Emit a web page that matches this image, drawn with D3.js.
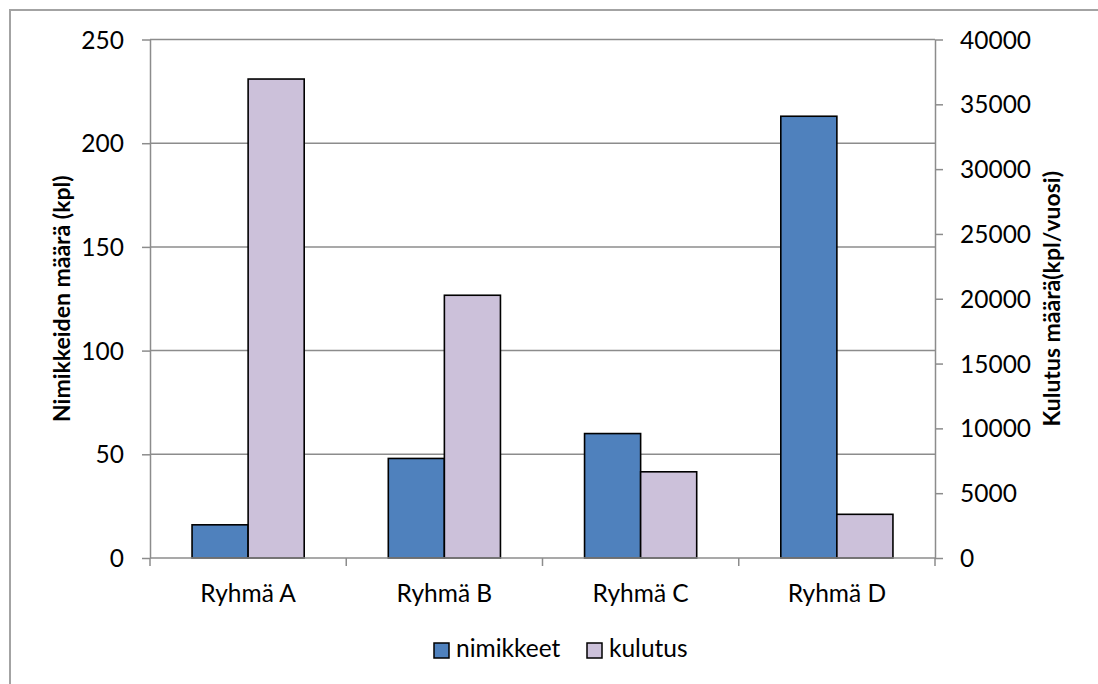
<!DOCTYPE html>
<html>
<head>
<meta charset="utf-8">
<script src="https://cdn.jsdelivr.net/npm/d3@7"></script>
<style>
  html, body { margin: 0; padding: 0; background: #fff; }
  svg { display: block; }
  text { font-family: Lato, "Open Sans", sans-serif; fill: #000; }
</style>
</head>
<body>
<svg id="chart" width="1098" height="684"></svg>
<script>
// Groups and the two measured series
const categories = ["Ryhmä A", "Ryhmä B", "Ryhmä C", "Ryhmä D"];
const seriesNames = ["nimikkeet", "kulutus"];
const nimikkeet = [16, 48, 60, 213];          // left axis, kpl
const kulutus = [36950, 20270, 6650, 3370];   // right axis, kpl/vuosi
const leftTicks = [0, 50, 100, 150, 200, 250];
const rightTicks = [0, 5000, 10000, 15000, 20000, 25000, 30000, 35000, 40000];
const leftTitle = "Nimikkeiden määrä (kpl)";
const rightTitle = "Kulutus määrä(kpl/vuosi)";

const colors = { nimikkeet: "#4F81BD", kulutus: "#CCC1DA" };
const gridColor = "#8c8c8c";
const fontSize = 24.5;
const titleSize = 23;

const svg = d3.select("#chart");
const plot = { left: 150, right: 935, top: 39.5, bottom: 558 };

// Chart area frame
svg.append("rect")
  .attr("x", 10).attr("y", 10)
  .attr("width", 1200).attr("height", 800)
  .attr("fill", "#fff")
  .attr("stroke", "#a3a3a3").attr("stroke-width", 2);

const x = d3.scaleBand().domain(categories).range([plot.left, plot.right]).padding(0);
const xInner = d3.scaleBand().domain(seriesNames).range([0, x.bandwidth()])
  .paddingInner(0).paddingOuter(0.75);
const yLeft = d3.scaleLinear().domain([0, 250]).range([plot.bottom, plot.top]);
const yRight = d3.scaleLinear().domain([0, 40000]).range([plot.bottom, plot.top]);

// Horizontal gridlines from the left axis
svg.append("g").selectAll("line").data(leftTicks.filter(d => d > 0)).join("line")
  .attr("x1", plot.left).attr("x2", plot.right)
  .attr("y1", d => yLeft(d)).attr("y2", d => yLeft(d))
  .attr("stroke", gridColor).attr("stroke-width", 1.5);

// Bars
const rows = categories.map((c, i) => ({ c, nimikkeet: nimikkeet[i], kulutus: kulutus[i] }));
const groups = svg.append("g").selectAll("g").data(rows).join("g")
  .attr("transform", d => `translate(${x(d.c)},0)`);
groups.append("rect")
  .attr("x", xInner("nimikkeet"))
  .attr("width", xInner.bandwidth())
  .attr("y", d => yLeft(d.nimikkeet))
  .attr("height", d => plot.bottom - yLeft(d.nimikkeet))
  .attr("fill", colors.nimikkeet).attr("stroke", "#000").attr("stroke-width", 1.6);
groups.append("rect")
  .attr("x", xInner("kulutus"))
  .attr("width", xInner.bandwidth())
  .attr("y", d => yRight(d.kulutus))
  .attr("height", d => plot.bottom - yRight(d.kulutus))
  .attr("fill", colors.kulutus).attr("stroke", "#000").attr("stroke-width", 1.6);

// Left axis
const leftAxis = d3.axisLeft(yLeft).tickValues(leftTicks).tickSize(8).tickPadding(18).tickSizeOuter(0);
const gl = svg.append("g").attr("transform", `translate(${plot.left},0)`).call(leftAxis);
// Right axis
const rightAxis = d3.axisRight(yRight).tickValues(rightTicks).tickFormat(d3.format("d"))
  .tickSize(8).tickPadding(17).tickSizeOuter(0);
const gr = svg.append("g").attr("transform", `translate(${plot.right},0)`).call(rightAxis);
// Bottom axis: ticks at group boundaries, labels at group centres
const gb = svg.append("g").attr("transform", `translate(0,${plot.bottom})`);
gb.append("line").attr("x1", plot.left).attr("x2", plot.right)
  .attr("stroke", gridColor).attr("stroke-width", 1.5);
const bounds = categories.map(c => x(c)).concat([x(categories[categories.length - 1]) + x.bandwidth()]);
gb.selectAll("line.tk").data(bounds).join("line").attr("class", "tk")
  .attr("x1", d => d).attr("x2", d => d).attr("y1", 0).attr("y2", 8)
  .attr("stroke", gridColor).attr("stroke-width", 1.5);
gb.selectAll("text").data(categories).join("text")
  .attr("x", d => x(d) + x.bandwidth() / 2).attr("y", 43.5)
  .attr("text-anchor", "middle").attr("font-size", fontSize)
  .text(d => d);

[gl, gr].forEach(g => {
  g.select(".domain").attr("stroke", gridColor).attr("stroke-width", 1.5);
  g.selectAll(".tick line").attr("stroke", gridColor).attr("stroke-width", 1.5);
  g.selectAll(".tick text").attr("font-size", fontSize).attr("font-family", "Lato, 'Open Sans', sans-serif")
    .attr("fill", "#000").attr("dy", "0.35em");
});

// Axis titles
svg.append("text")
  .attr("transform", `translate(69.5,${(plot.top + plot.bottom) / 2}) rotate(-90)`)
  .attr("text-anchor", "middle").attr("font-size", titleSize).attr("font-weight", "bold")
  .text(leftTitle);
svg.append("text")
  .attr("transform", `translate(1060,${(plot.top + plot.bottom) / 2}) rotate(-90)`)
  .attr("text-anchor", "middle").attr("font-size", titleSize).attr("font-weight", "bold")
  .text(rightTitle);

// Legend
const legend = svg.append("g");
const legendItems = [
  { name: "nimikkeet", sx: 434, tx: 456 },
  { name: "kulutus", sx: 587, tx: 609 }
];
legendItems.forEach(it => {
  legend.append("rect").attr("x", it.sx).attr("y", 643).attr("width", 15).attr("height", 15)
    .attr("fill", colors[it.name]).attr("stroke", "#000").attr("stroke-width", 1.5);
  legend.append("text").attr("x", it.tx).attr("y", 657).attr("font-size", fontSize).text(it.name);
});
</script>
</body>
</html>
